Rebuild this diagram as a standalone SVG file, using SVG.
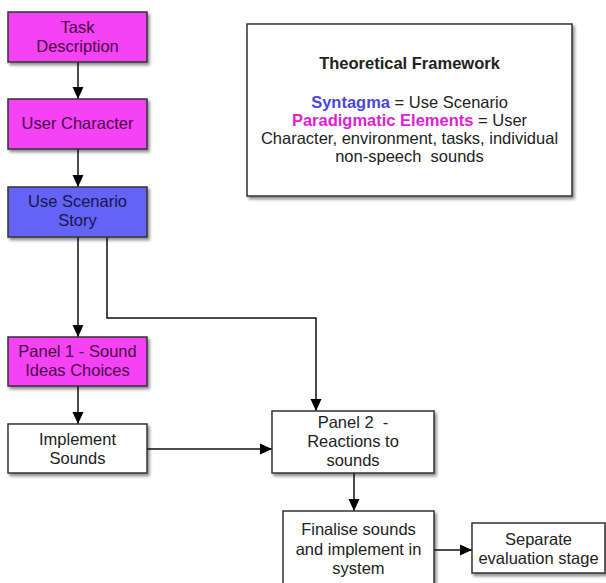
<svg xmlns="http://www.w3.org/2000/svg" width="606" height="583" viewBox="0 0 606 583">
<defs>
<filter id="sh" x="-10%" y="-10%" width="130%" height="140%">
<feDropShadow dx="2" dy="2.5" stdDeviation="1.5" flood-color="#000" flood-opacity="0.45"/>
</filter>
<marker id="arr" viewBox="0 0 12 12" refX="12" refY="6" markerWidth="12" markerHeight="12" markerUnits="userSpaceOnUse" orient="auto">
<path d="M0,0.5 L12,6 L0,11.5 Z" fill="#000"/>
</marker>
<style>
.box{stroke:#333;stroke-width:1.5;filter:url(#sh)}
.mag{fill:#f542f5}
.blue{fill:#6464f5}
.white{fill:#fff}
text{font-family:"Liberation Sans",Arial,sans-serif;font-size:16.5px;text-anchor:middle}
.tm{fill:#4a0a48}
.tb{fill:#161650}
.tw{fill:#222}
.conn path{fill:none;stroke:#111;stroke-width:1.5;marker-end:url(#arr)}
</style>
</defs>
<rect width="606" height="583" fill="#fff"/>
<g class="conn" id="connectors">
<path d="M78,62 V99"/>
<path d="M78,149 V187"/>
<path d="M78,237 V337"/>
<path d="M107,237 V318 H316 V411"/>
<path d="M78,386 V424"/>
<path d="M147,449 H272"/>
<path d="M354,473 V511"/>
<path d="M434,550 H472"/>
</g>
<g id="task">
<rect class="box mag" x="8" y="12" width="139" height="50"/>
<text class="tm" x="77.5" y="33">Task</text>
<text class="tm" x="77.5" y="52">Description</text>
</g>
<g id="user">
<rect class="box mag" x="8" y="99" width="139" height="50"/>
<text class="tm" x="77.5" y="129">User Character</text>
</g>
<g id="scenario">
<rect class="box blue" x="8" y="187" width="139" height="50"/>
<text class="tb" x="77.5" y="207">Use Scenario</text>
<text class="tb" x="77.5" y="226">Story</text>
</g>
<g id="panel1">
<rect class="box mag" x="8" y="337" width="139" height="49"/>
<text class="tm" x="77.5" y="357">Panel 1 - Sound</text>
<text class="tm" x="77.5" y="376">Ideas Choices</text>
</g>
<g id="implement">
<rect class="box white" x="8" y="424" width="139" height="49"/>
<text class="tw" x="77.5" y="445">Implement</text>
<text class="tw" x="77.5" y="464">Sounds</text>
</g>
<g id="panel2">
<rect class="box white" x="272" y="411" width="162" height="62"/>
<text class="tw" x="353" y="428" xml:space="preserve">Panel 2  -</text>
<text class="tw" x="353" y="447">Reactions to</text>
<text class="tw" x="353" y="466">sounds</text>
</g>
<g id="finalise">
<rect class="box white" x="283" y="511" width="151" height="80"/>
<text class="tw" x="358.5" y="535">Finalise sounds</text>
<text class="tw" x="358.5" y="555">and implement in</text>
<text class="tw" x="358.5" y="574">system</text>
</g>
<g id="separate">
<rect class="box white" x="472" y="523" width="133" height="50"/>
<text class="tw" x="538.5" y="545">Separate</text>
<text class="tw" x="538.5" y="564">evaluation stage</text>
</g>
<g id="framework">
<rect class="box white" x="247" y="24" width="325" height="172"/>
<text class="tw" x="409.5" y="69" style="font-weight:bold">Theoretical Framework</text>
<text class="tw" x="409.5" y="108"><tspan fill="#4a46dc" style="font-weight:bold">Syntagma</tspan> = Use Scenario</text>
<text class="tw" x="409.5" y="126"><tspan fill="#e020d2" style="font-weight:bold">Paradigmatic Elements</tspan> = User</text>
<text class="tw" x="409.5" y="144">Character, environment, tasks, individual</text>
<text class="tw" x="409.5" y="162" xml:space="preserve">non-speech  sounds</text>
</g>
</svg>
